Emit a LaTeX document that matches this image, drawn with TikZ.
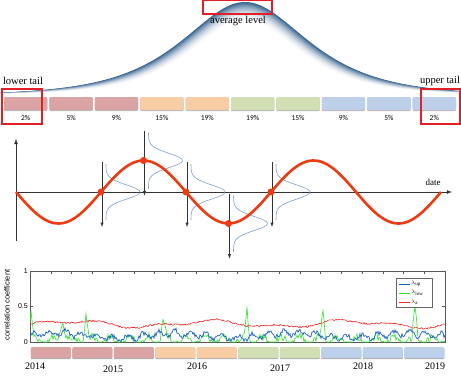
\documentclass[tikz,border=0pt]{standalone}
\usepackage{fontspec}
\setmainfont{Liberation Serif}
\newfontfamily\pctfont{Carlito}
\newfontfamily\axisfont{Liberation Sans}
\usepackage{xcolor}
\usetikzlibrary{arrows, positioning, shadows}

\definecolor{bellblue}{HTML}{34618F}
\definecolor{barred}{HTML}{DAA4A4}
\definecolor{barorange}{HTML}{F8CDA6}
\definecolor{bargreen}{HTML}{D2DEB4}
\definecolor{barblue}{HTML}{BCD0EA}
\definecolor{hired}{HTML}{E21F26}
\definecolor{sinered}{HTML}{EC3A12}
\definecolor{densblue}{HTML}{7E9EC8}
\definecolor{serblue}{HTML}{1C62C0}
\definecolor{sergreen}{HTML}{2FE02F}
\definecolor{serred}{HTML}{F52626}

\begin{document}
\begin{tikzpicture}[x=1pt, y=-1pt,
    topbar/.style={rectangle, rounded corners=1pt, minimum width=43.4pt, minimum height=13pt, inner sep=0pt,
        drop shadow={shadow xshift=0pt, shadow yshift=-1pt, fill=gray!55, opacity=1}},
    lowbar/.style={rectangle, rounded corners=1pt, minimum width=40pt, minimum height=11pt, inner sep=0pt,
        drop shadow={shadow xshift=0pt, shadow yshift=-1.2pt, fill=gray!65, opacity=1}},
    pct/.style={font=\pctfont\fontsize{7.5}{8}\selectfont, inner sep=1pt},
    hibox/.style={draw=hired, line width=1.1pt},
    tail/.style={font=\fontsize{10.5}{12}\selectfont, inner sep=0pt},
    axisline/.style={draw=black!80, line width=0.8pt},
    densline/.style={densblue, line width=0.6pt},
    dot/.style={circle, fill=sinered, minimum size=7pt, inner sep=0pt},
    boxline/.style={draw=black!65, line width=0.5pt},
    ticklab/.style={font=\axisfont\fontsize{7}{8}\selectfont, inner sep=1pt},
    yearlab/.style={font=\fontsize{10}{12}\selectfont, inner sep=0pt}]
    \useasboundingbox (0,0) rectangle (461,384);

    % Bell curve, shaded from the rim inwards
    \foreach \i in {0,...,24} {
        \pgfmathsetmacro\amp{93-0.8*\i}
        \pgfmathsetmacro\wid{56-0.35*\i}
        \pgfmathsetmacro\pc{100*(1-\i/24)*(1-\i/24)}
        \fill[bellblue!\pc!white] plot[domain=0:461, samples=120] (\x,{95-\amp/cosh((\x-245)/\wid)}) -- cycle;
    }

    % Level bars
    \foreach \c [count=\i] in {barred,barred,barred,barorange,barorange,bargreen,bargreen,barblue,barblue,barblue}
        \node[topbar, fill=\c] (bar\i) at ({3+45.4*(\i-0.5)},103.5) {};
    \foreach \p [count=\i] in {2,5,9,15,19,19,15,9,5,2}
        \node[pct, below=4pt of bar\i] (pct\i) {\p\%};

    \node[tail] (avg) at (238,21) {average level};
    \node[tail] (lowtail) at (23,81) {lower tail};
    \node[tail] (uptail) at (440,81) {upper tail};
    \draw[hibox] (203,0.6) rectangle (272,14);
    \draw[hibox] (2,89) rectangle (42,124);
    \draw[hibox] (421,89) rectangle (460,124);

    % Axes
    \coordinate (ybot) at (16,241);
    \coordinate (ytop) at (16,139);
    \coordinate (xorg) at (16,192);
    \coordinate (xend) at (452,192);
    \draw[axisline, -latex] (ybot) -- (ytop);
    \draw[axisline, -latex] (xorg) -- (xend);
    \node[font=\fontsize{9}{10}\selectfont] (date) at (433,182) {date};

    % Densities along the curve
    \foreach \n/\xc/\yc in {1/101/192, 2/143.5/160.5, 3/186/192, 4/228.5/223.5, 5/271/192} {
        \draw[densline] plot[variable=\t, domain=-28:28, samples=60] ({\xc+5+34*exp(-1*(\t/10)*(\t/10))},{\yc+\t});
        \coordinate (top\n) at ({\xc+1},{\yc-30});
        \coordinate (bot\n) at ({\xc+1},{\yc+35});
        \draw[black!80, line width=0.5pt, -latex] (top\n) -- (bot\n);
    }
    \draw[sinered, line width=2.6pt] plot[domain=16:441, samples=160] (\x,{192+31.5*sin((\x-16)*2.1176)});
    \foreach \n/\xc/\yc in {1/101/192, 2/143.5/160.5, 3/186/192, 4/228.5/223.5, 5/271/192}
        \node[dot] (pt\n) at (\xc,\yc) {};

    % Correlation plot
    \draw[boxline] (30,271) rectangle (445,342);
    \foreach \v/\yy [count=\i] in {0/342, 0.5/306.5, 1/271} {
        \draw[boxline] (30,\yy) -- (33,\yy);
        \draw[boxline] (445,\yy) -- (442,\yy);
        \node[ticklab, left] (tick\i) at (29,\yy) {\v};
    }
    \foreach \k in {1,...,19}
        \draw[boxline] ({30+20.75*\k},271) -- ({30+20.75*\k},273.5);
    \node[font=\axisfont\fontsize{7.5}{8}\selectfont, rotate=90] (ylab) at (7,305) {correlation coefficient};

    \begin{scope}
        \clip (30,271) rectangle (445,342);
        \pgfmathsetseed{11}
        \draw[serred, line width=0.6pt] plot[domain=30:445, samples=416]
            (\x,{342-71*(0.255+0.04*sin((\x-30)*2.6-20)+0.025*sin((\x-30)*6.1+30)+0.012*rand)});
        \draw[sergreen, line width=0.6pt] plot[domain=30:445, samples=416]
            (\x,{342-71*max(0.0, 0.02+0.06*sin((\x-30)*19)+0.05*rand
                +0.42*max(0,1-abs(\x-31)/3)+0.3*max(0,1-abs(\x-63)/5)+0.4*max(0,1-abs(\x-86)/3)
                +0.28*max(0,1-abs(\x-163)/4)+0.45*max(0,1-abs(\x-247)/3)+0.45*max(0,1-abs(\x-323)/3)
                +0.45*max(0,1-abs(\x-415)/3))});
        \draw[serblue, line width=0.7pt] plot[domain=30:445, samples=416]
            (\x,{342-71*max(0.01, 0.09+0.035*sin((\x-30)*3.1)+0.04*sin((\x-30)*23)+0.035*rand)});
    \end{scope}

    % Legend
    \node[draw=black!60, fill=white, line width=0.4pt, minimum width=36pt, minimum height=29pt, inner sep=0pt] (legend) at (414,292.5) {};
    \foreach \n/\col/\lab in {1/serblue/up, 2/sergreen/low, 3/serred/a} {
        \draw[\col, line width=0.8pt] (399,{275+9*\n}) -- (410,{275+9*\n});
        \node[font=\fontsize{5}{6}\selectfont, right, inner sep=0pt] (leg\n) at (411,{275+9*\n}) {$\lambda_{\mathrm{\lab}}$};
    }

    % Year bars
    \foreach \c [count=\i] in {barred,barred,barred,barorange,barorange,bargreen,bargreen,barblue,barblue,barblue}
        \node[lowbar, fill=\c] (seg\i) at ({30+41.5*(\i-0.5)},352.5) {};
    \foreach \yr/\xx/\yy in {2014/35/366, 2015/113/369, 2016/197/366, 2017/280/368, 2018/363/366, 2019/435/366}
        \node[yearlab] (yr\yr) at (\xx,\yy) {\yr};
\end{tikzpicture}
\end{document}
